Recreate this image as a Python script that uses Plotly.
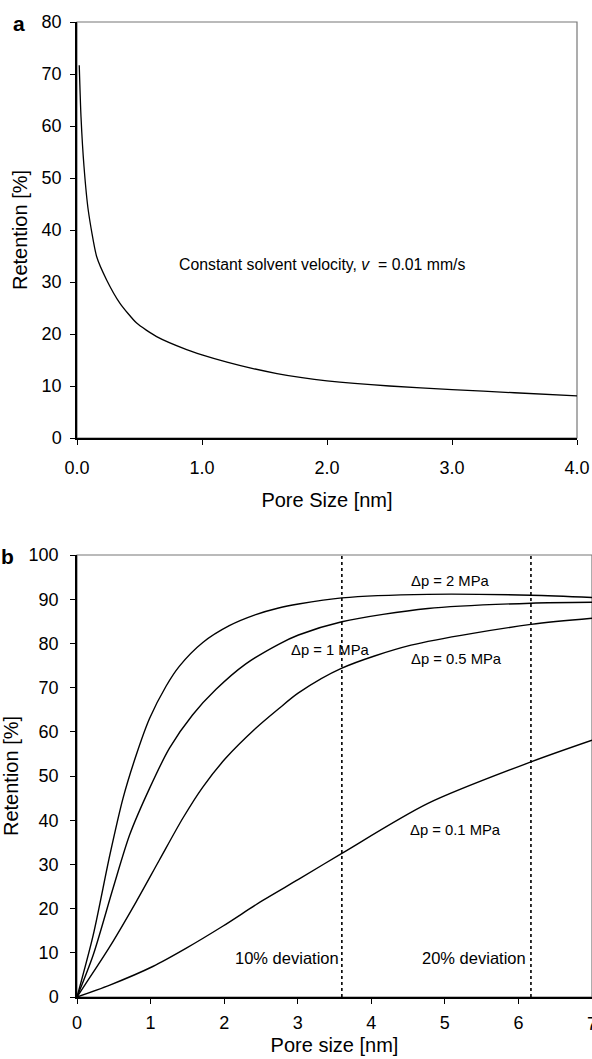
import plotly.graph_objects as go

# ---------- Panel a data ----------
a_pore = [0.018, 0.032, 0.056, 0.09, 0.157, 0.237, 0.344, 0.477, 0.637, 0.877,
          1.0, 1.2, 1.4, 1.6, 1.8, 2.0, 2.5, 3.0, 3.5, 4.0]
a_ret = [71.7, 61.8, 52.2, 43.8, 34.9, 30.4, 25.9, 22.1, 19.5, 17.0,
         16.0, 14.6, 13.4, 12.4, 11.6, 11.0, 10.0, 9.3, 8.7, 8.1]
a_xticks = [0.0, 1.0, 2.0, 3.0, 4.0]
a_yticks = [0, 10, 20, 30, 40, 50, 60, 70, 80]

# ---------- Panel b data ----------
p2_x = [0, 0.22, 0.446, 0.626, 0.806, 0.986, 1.21, 1.39, 1.71, 2.07, 2.43, 2.74, 3.01, 3.60, 4.77, 6.17, 7.0]
p2_y = [0, 14.0, 32.1, 45.0, 54.8, 63.0, 70.3, 74.8, 80.2, 84.0, 86.5, 88.0, 88.9, 90.3, 91.1, 90.9, 90.4]
p1_x = [0, 0.22, 0.49, 0.716, 0.986, 1.257, 1.57, 1.89, 2.29, 2.74, 3.01, 3.60, 4.77, 6.17, 7.0]
p1_y = [0, 9.5, 24.6, 36.7, 47.2, 56.3, 63.8, 69.6, 75.3, 79.8, 81.9, 84.9, 87.9, 89.1, 89.3]
p05_x = [0, 0.15, 0.446, 0.806, 1.12, 1.44, 1.71, 2.02, 2.43, 2.74, 3.01, 3.60, 4.54, 6.17, 7.0]
p05_y = [0, 3.8, 11.4, 21.6, 31.0, 40.5, 47.5, 54.0, 60.8, 65.2, 68.8, 74.4, 79.6, 84.3, 85.7]
p01_x = [0, 0.446, 1.03, 1.48, 1.98, 2.52, 3.01, 3.60, 4.77, 6.17, 7.0]
p01_y = [0, 2.7, 6.9, 11.0, 16.0, 21.8, 26.6, 32.5, 43.8, 53.2, 58.1]
deviation_x = [3.6, 6.17]
deviation_labels = ["10% deviation", "20% deviation"]
deviation_label_x = [2.85, 5.39]
b_xticks = [0, 1, 2, 3, 4, 5, 6, 7]
b_yticks = [0, 10, 20, 30, 40, 50, 60, 70, 80, 90, 100]

curve_labels = ["Δp = 2 MPa", "Δp = 1 MPa", "Δp = 0.5 MPa", "Δp = 0.1 MPa"]
curve_label_x = [5.08, 3.44, 5.16, 5.15]
curve_label_y = [94.1, 78.4, 76.4, 37.8]

FONT = "Liberation Sans, Arial, sans-serif"
W, H = 592, 1059

fig = go.Figure()

fig.add_trace(go.Scatter(x=a_pore, y=a_ret, mode="lines",
                         line=dict(color="black", width=1.3, shape="spline", smoothing=0.6),
                         xaxis="x", yaxis="y", showlegend=False))
for xs, ys in [(p2_x, p2_y), (p1_x, p1_y), (p05_x, p05_y), (p01_x, p01_y)]:
    fig.add_trace(go.Scatter(x=xs, y=ys, mode="lines",
                             line=dict(color="black", width=1.4, shape="spline", smoothing=0.8),
                             xaxis="x2", yaxis="y2", showlegend=False))

# frames
for xr, yr in [("x", "y"), ("x2", "y2")]:
    fig.add_shape(type="rect", xref=f"{xr} domain", yref=f"{yr} domain", x0=0, x1=1, y0=0, y1=1,
                  line=dict(color="#777777", width=1.2), layer="below")

# dotted deviation lines
for dx in deviation_x:
    fig.add_shape(type="line", xref="x2", yref="y2", x0=dx, x1=dx, y0=0, y1=100,
                  line=dict(color="black", width=1.6, dash="dot"))

ann = []
ann.append(dict(text="Constant solvent velocity, <i>v</i>  = 0.01 mm/s", x=1.96, y=33.3, xref="x", yref="y",
                showarrow=False, font=dict(size=15.8, family=FONT, color="black")))
for t, xx, yy in zip(curve_labels, curve_label_x, curve_label_y):
    ann.append(dict(text=t, x=xx, y=yy, xref="x2", yref="y2", showarrow=False,
                    font=dict(size=14.8, family=FONT, color="black")))
for t, xx in zip(deviation_labels, deviation_label_x):
    ann.append(dict(text=t, x=xx, y=8.8, xref="x2", yref="y2", showarrow=False,
                    font=dict(size=16.5, family=FONT, color="black")))
# the partially visible last tick label of panel b (cut at the edge, as in the original)
ann.append(dict(text=str(b_xticks[-1]), x=b_xticks[-1], y=0, xref="x2", yref="y2", yshift=-27,
                showarrow=False, xanchor="center", yanchor="middle",
                font=dict(size=18, family=FONT, color="black")))
ann.append(dict(text="<b>a</b>", x=18.5 / W, y=1 - 24 / H, xref="paper", yref="paper", showarrow=False,
                xanchor="center", yanchor="middle", font=dict(size=21, family=FONT, color="black")))
ann.append(dict(text="<b>b</b>", x=7.5 / W, y=1 - 556 / H, xref="paper", yref="paper", showarrow=False,
                xanchor="center", yanchor="middle", font=dict(size=21, family=FONT, color="black")))

axis_common = dict(showgrid=False, zeroline=False, showline=True, linecolor="black", linewidth=1.5,
                   ticks="outside", ticklen=5, tickwidth=1, tickcolor="black", automargin=False,
                   tickfont=dict(size=18, family=FONT, color="black"))

fig.update_layout(
    width=W, height=H, margin=dict(l=0, r=0, t=0, b=0),
    paper_bgcolor="white", plot_bgcolor="white", template="none",
    font=dict(family=FONT, color="black"),
    xaxis=dict(**axis_common, domain=[77 / W, 577 / W], range=[0, 4], tickvals=a_xticks,
               tickformat=".1f", anchor="y", ticklabelstandoff=8,
               title=dict(text="Pore Size [nm]", font=dict(size=20, family=FONT), standoff=16)),
    yaxis=dict(**axis_common, domain=[1 - 438 / H, 1 - 22 / H], range=[0, 80], tickvals=a_yticks,
               anchor="x", ticklabelstandoff=5,
               title=dict(text="Retention [%]", font=dict(size=20, family=FONT), standoff=9)),
    xaxis2=dict(**axis_common, domain=[77 / W, 1.0], range=[0, 7], tickvals=b_xticks,
                anchor="y2", ticklabelstandoff=4,
                title=dict(text="Pore size [nm]", font=dict(size=20, family=FONT), standoff=6)),
    yaxis2=dict(**axis_common, domain=[1 - 997 / H, 1 - 555 / H], range=[0, 100], tickvals=b_yticks,
                anchor="x2", ticklabelstandoff=8,
                title=dict(text="Retention [%]", font=dict(size=20, family=FONT), standoff=10)),
    annotations=ann,
)

fig.write_html("out.html")
